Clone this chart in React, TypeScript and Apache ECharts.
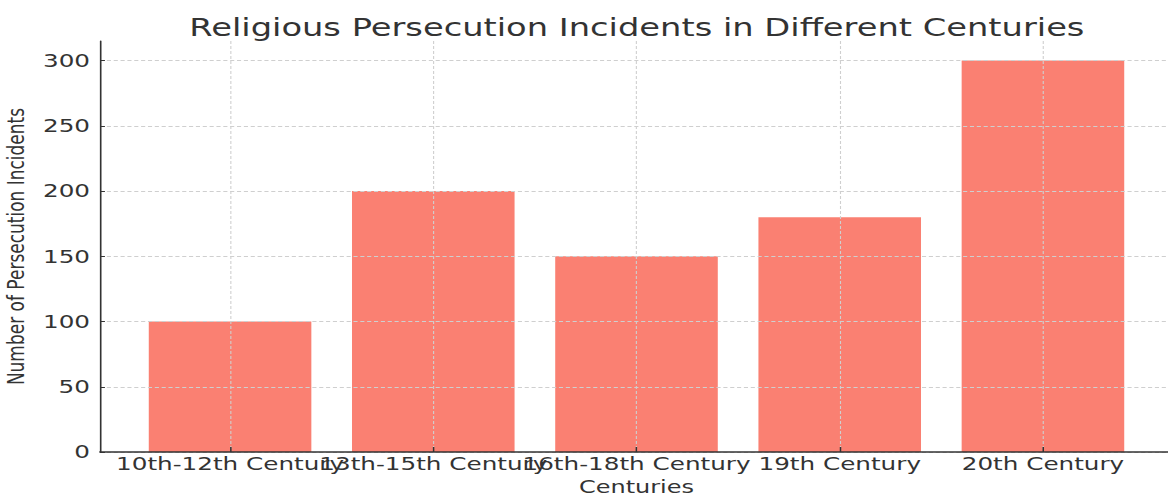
import React, { useEffect, useRef } from "react";
import * as echarts from "echarts";

// ---- data ----
const categories = [
  "10th-12th Century",
  "13th-15th Century",
  "16th-18th Century",
  "19th Century",
  "20th Century",
];
const incidents = [100, 200, 150, 180, 300];
const categoryPositions = [0, 1, 2, 3, 4];
const yTicks = [0, 50, 100, 150, 200, 250, 300];

// ---- layout (reference is a horizontally stretched picture) ----
const SX = 1.37;
const VIEW_W = 1168;
const VIEW_H = 495;
const INNER_W = 880;
const X_MIN = -0.64;
const X_MAX = 4.64;
const Y_MAX = 315;
const GRID_LEFT = 100 / SX;
const GRID_RIGHT_EDGE = 1173 / SX;
const GRID_TOP = 41;
const GRID_BOTTOM = VIEW_H - 452;
const BAR_WIDTH = ((GRID_RIGHT_EDGE - GRID_LEFT) / (X_MAX - X_MIN)) * 0.8;
// empty guard labels at the axis ends so ECharts' min/max label check never hides a real one
const X_LABEL_VALUES = [X_MIN, ...categoryPositions, X_MAX];

const FONT = "DejaVu Sans";
const TEXT = "#333333";
const GRID_LINE = "#cfcfcf";

export default function App() {
  const ref = useRef<HTMLDivElement>(null);

  useEffect(() => {
    if (!ref.current) return;
    const chart = echarts.init(ref.current, undefined, { renderer: "svg" });
    chart.setOption({
      animation: false,
      backgroundColor: "#ffffff",
      title: {
        text: "Religious Persecution Incidents in Different Centuries",
        left: 630 / SX,
        textAlign: "center",
        top: 10.5,
        textStyle: { fontFamily: FONT, fontSize: 24.6, fontWeight: "normal", color: TEXT },
      },
      grid: {
        left: GRID_LEFT,
        right: INNER_W - GRID_RIGHT_EDGE,
        top: GRID_TOP,
        bottom: GRID_BOTTOM,
        containLabel: false,
        outerBoundsMode: "none",
      },
      xAxis: {
        type: "value",
        min: X_MIN,
        max: X_MAX,
        z: 5,
        name: "Centuries",
        nameLocation: "middle",
        nameGap: 25.5,
        nameTextStyle: { fontFamily: FONT, fontSize: 17.5, color: TEXT, lineHeight: 15 },
        axisLine: { show: true, onZero: false, lineStyle: { color: "#333", width: 1.5 } },
        axisTick: {
          show: true,
          inside: true,
          length: 5,
          customValues: categoryPositions,
          lineStyle: { color: "#333", width: 1.1 },
        },
        axisLabel: {
          customValues: X_LABEL_VALUES,
          formatter: (v: number) => {
            const i = categoryPositions.indexOf(Math.round(v));
            return Math.abs(v - Math.round(v)) < 1e-6 && i >= 0 ? categories[i] : "";
          },
          fontFamily: FONT,
          fontSize: 18,
          color: TEXT,
          margin: 3,
          hideOverlap: false,
        },
        splitLine: {
          show: true,
          customValues: categoryPositions,
          lineStyle: { color: GRID_LINE, type: [3, 2], width: 0.8 },
        },
      },
      yAxis: {
        type: "value",
        min: 0,
        max: Y_MAX,
        z: 5,
        name: "Number of Persecution Incidents",
        nameLocation: "middle",
        nameGap: 42,
        nameTextStyle: { fontFamily: FONT, fontSize: 17, color: TEXT },
        axisLine: { show: true, onZero: false, lineStyle: { color: "#333", width: 1.2 } },
        axisTick: {
          show: true,
          inside: true,
          length: 3.6,
          customValues: yTicks,
          lineStyle: { color: "#333", width: 1 },
        },
        axisLabel: {
          customValues: yTicks,
          fontFamily: FONT,
          fontSize: 18,
          color: TEXT,
          margin: 7.3,
          showMinLabel: true,
          showMaxLabel: true,
        },
        splitLine: {
          show: true,
          customValues: yTicks,
          lineStyle: { color: GRID_LINE, type: [3, 2], width: 0.8 },
        },
      },
      series: [
        {
          type: "bar",
          z: 1,
          barWidth: BAR_WIDTH,
          itemStyle: { color: "#FA8072" },
          data: incidents.map((v, i) => [categoryPositions[i], v]),
        },
      ],
    });
    return () => chart.dispose();
  }, []);

  return (
    <div
      style={{
        position: "fixed",
        left: 0,
        top: 0,
        width: VIEW_W,
        height: VIEW_H,
        overflow: "hidden",
        background: "#ffffff",
      }}
    >
      <div
        ref={ref}
        style={{
          width: INNER_W,
          height: VIEW_H,
          transform: `scaleX(${SX})`,
          transformOrigin: "0 0",
        }}
      />
    </div>
  );
}
